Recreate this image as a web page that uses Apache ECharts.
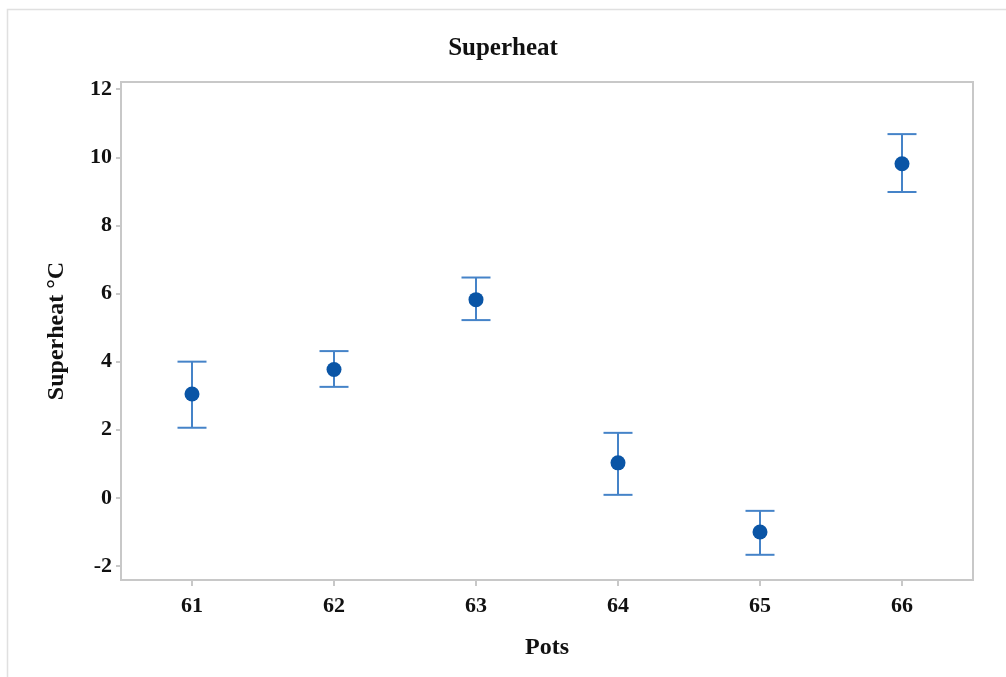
<!DOCTYPE html>
<html>
<head>
<meta charset="utf-8">
<script src="https://cdn.jsdelivr.net/npm/echarts@6/dist/echarts.min.js"></script>
<style>html,body{margin:0;padding:0;background:#fff;}#c{width:1006px;height:677px;}</style>
</head>
<body>
<div id="c"></div>
<script>
const categories = ['61', '62', '63', '64', '65', '66'];
const means = [3.05, 3.77, 5.82, 1.03, -1.0, 9.81];
const upper = [4.0, 4.31, 6.47, 1.91, -0.38, 10.68];
const lower = [2.06, 3.26, 5.22, 0.09, -1.67, 8.98];
const yTicks = [-2, 0, 2, 4, 6, 8, 10, 12];

const font = '"Liberation Serif", "Times New Roman", serif';
const chart = echarts.init(document.getElementById('c'));
const errData = categories.map((c, i) => [i, lower[i], upper[i]]);

chart.setOption({
  animation: false,
  backgroundColor: '#fff',
  graphic: [{
    type: 'rect', left: 5, top: 7, shape: { width: 1100, height: 800 },
    style: { fill: 'none', stroke: '#e0e0e0', lineWidth: 1.5 }, silent: true, z: -10
  }],
  title: {
    text: 'Superheat', left: 'center', top: 31,
    textStyle: { fontFamily: font, fontSize: 25, fontWeight: 'bold', color: '#111' }
  },
  grid: { left: 121, right: 33, top: 82, bottom: 97, show: true, borderColor: '#c8c8c8', borderWidth: 2 },
  xAxis: {
    type: 'category', data: categories, boundaryGap: true,
    name: 'Pots', nameLocation: 'middle', nameGap: 56,
    nameTextStyle: { fontFamily: font, fontSize: 24, fontWeight: 'bold', color: '#111' },
    axisLine: { show: true, onZero: false, lineStyle: { color: '#c8c8c8', width: 2 } },
    axisTick: { show: true, alignWithLabel: true, length: 6, lineStyle: { color: '#c8c8c8', width: 2 } },
    axisLabel: { fontFamily: font, fontSize: 22, fontWeight: 'bold', color: '#111', margin: 15 },
    splitLine: { show: false }
  },
  yAxis: {
    type: 'value', min: -2.41, max: 12.21,
    name: 'Superheat °C', nameLocation: 'middle', nameGap: 52, nameRotate: 90,
    nameTextStyle: { fontFamily: font, fontSize: 24, fontWeight: 'bold', color: '#111' },
    axisLine: { show: true, lineStyle: { color: '#c8c8c8', width: 2 } },
    axisTick: { show: true, length: 5, customValues: yTicks, lineStyle: { color: '#c8c8c8', width: 2 } },
    axisLabel: { fontFamily: font, fontSize: 22, fontWeight: 'bold', color: '#111', margin: 9, customValues: yTicks },
    splitLine: { show: false }
  },
  series: [
    {
      type: 'custom',
      data: errData,
      z: 2,
      renderItem: function (params, api) {
        const x = api.value(0);
        const lo = api.coord([x, api.value(1)]);
        const hi = api.coord([x, api.value(2)]);
        const hw = 14.5;
        const st = { stroke: '#4583c8', lineWidth: 2, fill: 'none' };
        return {
          type: 'group',
          children: [
            { type: 'line', shape: { x1: lo[0], y1: lo[1], x2: hi[0], y2: hi[1] }, style: st },
            { type: 'line', shape: { x1: hi[0] - hw, y1: hi[1], x2: hi[0] + hw, y2: hi[1] }, style: st },
            { type: 'line', shape: { x1: lo[0] - hw, y1: lo[1], x2: lo[0] + hw, y2: lo[1] }, style: st }
          ]
        };
      }
    },
    {
      type: 'scatter',
      data: means,
      symbol: 'circle',
      symbolSize: 15,
      z: 3,
      itemStyle: { color: '#0a55a6', opacity: 1 }
    }
  ]
});
</script>
</body>
</html>
